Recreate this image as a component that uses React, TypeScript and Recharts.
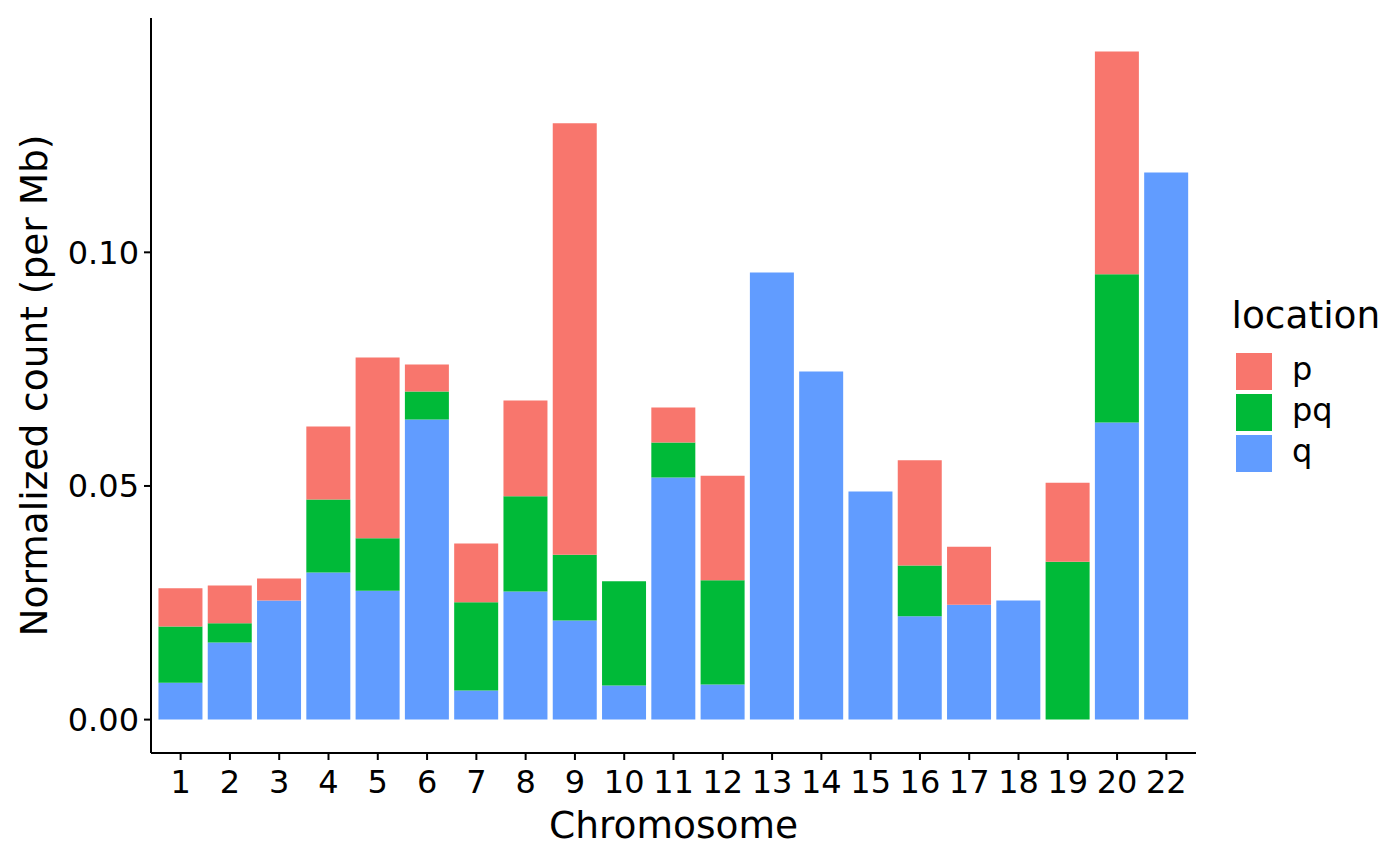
import { Bar, BarChart, Label, XAxis, YAxis } from "recharts";

const chromosomes = ["1", "2", "3", "4", "5", "6", "7", "8", "9", "10", "11", "12", "13", "14", "15", "16", "17", "18", "19", "20", "22"];
const qValues = [0.0079, 0.0165, 0.0255, 0.0315, 0.0276, 0.0642, 0.0062, 0.0274, 0.0212, 0.0073, 0.0518, 0.0075, 0.0957, 0.0745, 0.0488, 0.0221, 0.0246, 0.0255, 0, 0.0636, 0.1171];
const pqValues = [0.012, 0.0041, 0, 0.0156, 0.0112, 0.006, 0.0189, 0.0204, 0.0141, 0.0223, 0.0075, 0.0223, 0, 0, 0, 0.0109, 0, 0, 0.0338, 0.0317, 0];
const pValues = [0.0082, 0.0081, 0.0047, 0.0156, 0.0387, 0.0058, 0.0126, 0.0205, 0.0923, 0, 0.0075, 0.0224, 0, 0, 0, 0.0225, 0.0124, 0, 0.0169, 0.0477, 0];
const yTicks = [0, 0.05, 0.1];

const locations = [
  { key: "p", color: "#F8766D" },
  { key: "pq", color: "#00BA38" },
  { key: "q", color: "#619CFF" },
];

const data = chromosomes.map((chr, i) => ({
  chr,
  q: qValues[i],
  pq: pqValues[i],
  p: pValues[i],
}));

const FONT = "DejaVu Sans";
const TICK_SIZE = 32;
const TITLE_SIZE = 37.5;

const LocationLegend = () => (
  <div style={{ position: "absolute", left: 1233, top: 290, width: 167, height: 200, fontFamily: FONT }}>
    <div style={{ position: "absolute", left: -1.5, top: 7, fontSize: TITLE_SIZE, lineHeight: "36px", whiteSpace: "nowrap" }}>
      location
    </div>
    {locations.map((loc, i) => (
      <div key={loc.key}>
        <div
          style={{
            position: "absolute",
            left: 3,
            top: 63 + i * 41,
            width: 36,
            height: 37,
            background: loc.color,
          }}
        />
        <div
          style={{
            position: "absolute",
            left: 59,
            top: 61 + i * 41,
            fontSize: TICK_SIZE,
            lineHeight: "36px",
          }}
        >
          {loc.key}
        </div>
      </div>
    ))}
  </div>
);

const App = () => {
  return (
    <div style={{ position: "absolute", left: 0, top: 0, width: 1400, height: 866, background: "#fff" }}>
      <BarChart
        width={1400}
        height={866}
        data={data}
        margin={{ top: 18, right: 204, left: 0, bottom: 0 }}
        barCategoryGap="5%"
        style={{ fontFamily: FONT }}
      >
        <XAxis
          dataKey="chr"
          interval={0}
          height={113}
          padding={{ left: 5, right: 5 }}
          tickSize={7}
          tickMargin={10}
          tick={{ fill: "#000", fontSize: TICK_SIZE, fontFamily: FONT }}
          axisLine={{ stroke: "#000", strokeWidth: 2 }}
          tickLine={{ stroke: "#000", strokeWidth: 2 }}
        >
          <Label
            content={({ viewBox }: any) => (
              <text
                x={viewBox.x + viewBox.width / 2}
                y={viewBox.y + 85}
                textAnchor="middle"
                fontSize={TITLE_SIZE}
                fontFamily={FONT}
                fill="#000"
              >
                Chromosome
              </text>
            )}
          />
        </XAxis>
        <YAxis
          width={151}
          domain={[-0.00715, 0.15015]}
          allowDataOverflow
          ticks={yTicks}
          tickFormatter={(v: number) => v.toFixed(2)}
          tickSize={7}
          tickMargin={5}
          tick={{ fill: "#000", fontSize: TICK_SIZE, fontFamily: FONT }}
          axisLine={{ stroke: "#000", strokeWidth: 2 }}
          tickLine={{ stroke: "#000", strokeWidth: 2 }}
        >
          <Label
            content={({ viewBox }: any) => {
              const cx = 47;
              const cy = viewBox.y + viewBox.height / 2;
              return (
                <text
                  x={cx}
                  y={cy}
                  transform={`rotate(-90, ${cx}, ${cy})`}
                  textAnchor="middle"
                  fontSize={TITLE_SIZE}
                  fontFamily={FONT}
                  fill="#000"
                >
                  Normalized count (per Mb)
                </text>
              );
            }}
          />
        </YAxis>
        <Bar dataKey="q" stackId="a" fill="#619CFF" isAnimationActive={false} />
        <Bar dataKey="pq" stackId="a" fill="#00BA38" isAnimationActive={false} />
        <Bar dataKey="p" stackId="a" fill="#F8766D" isAnimationActive={false} />
      </BarChart>
      <LocationLegend />
    </div>
  );
};

export default App;
